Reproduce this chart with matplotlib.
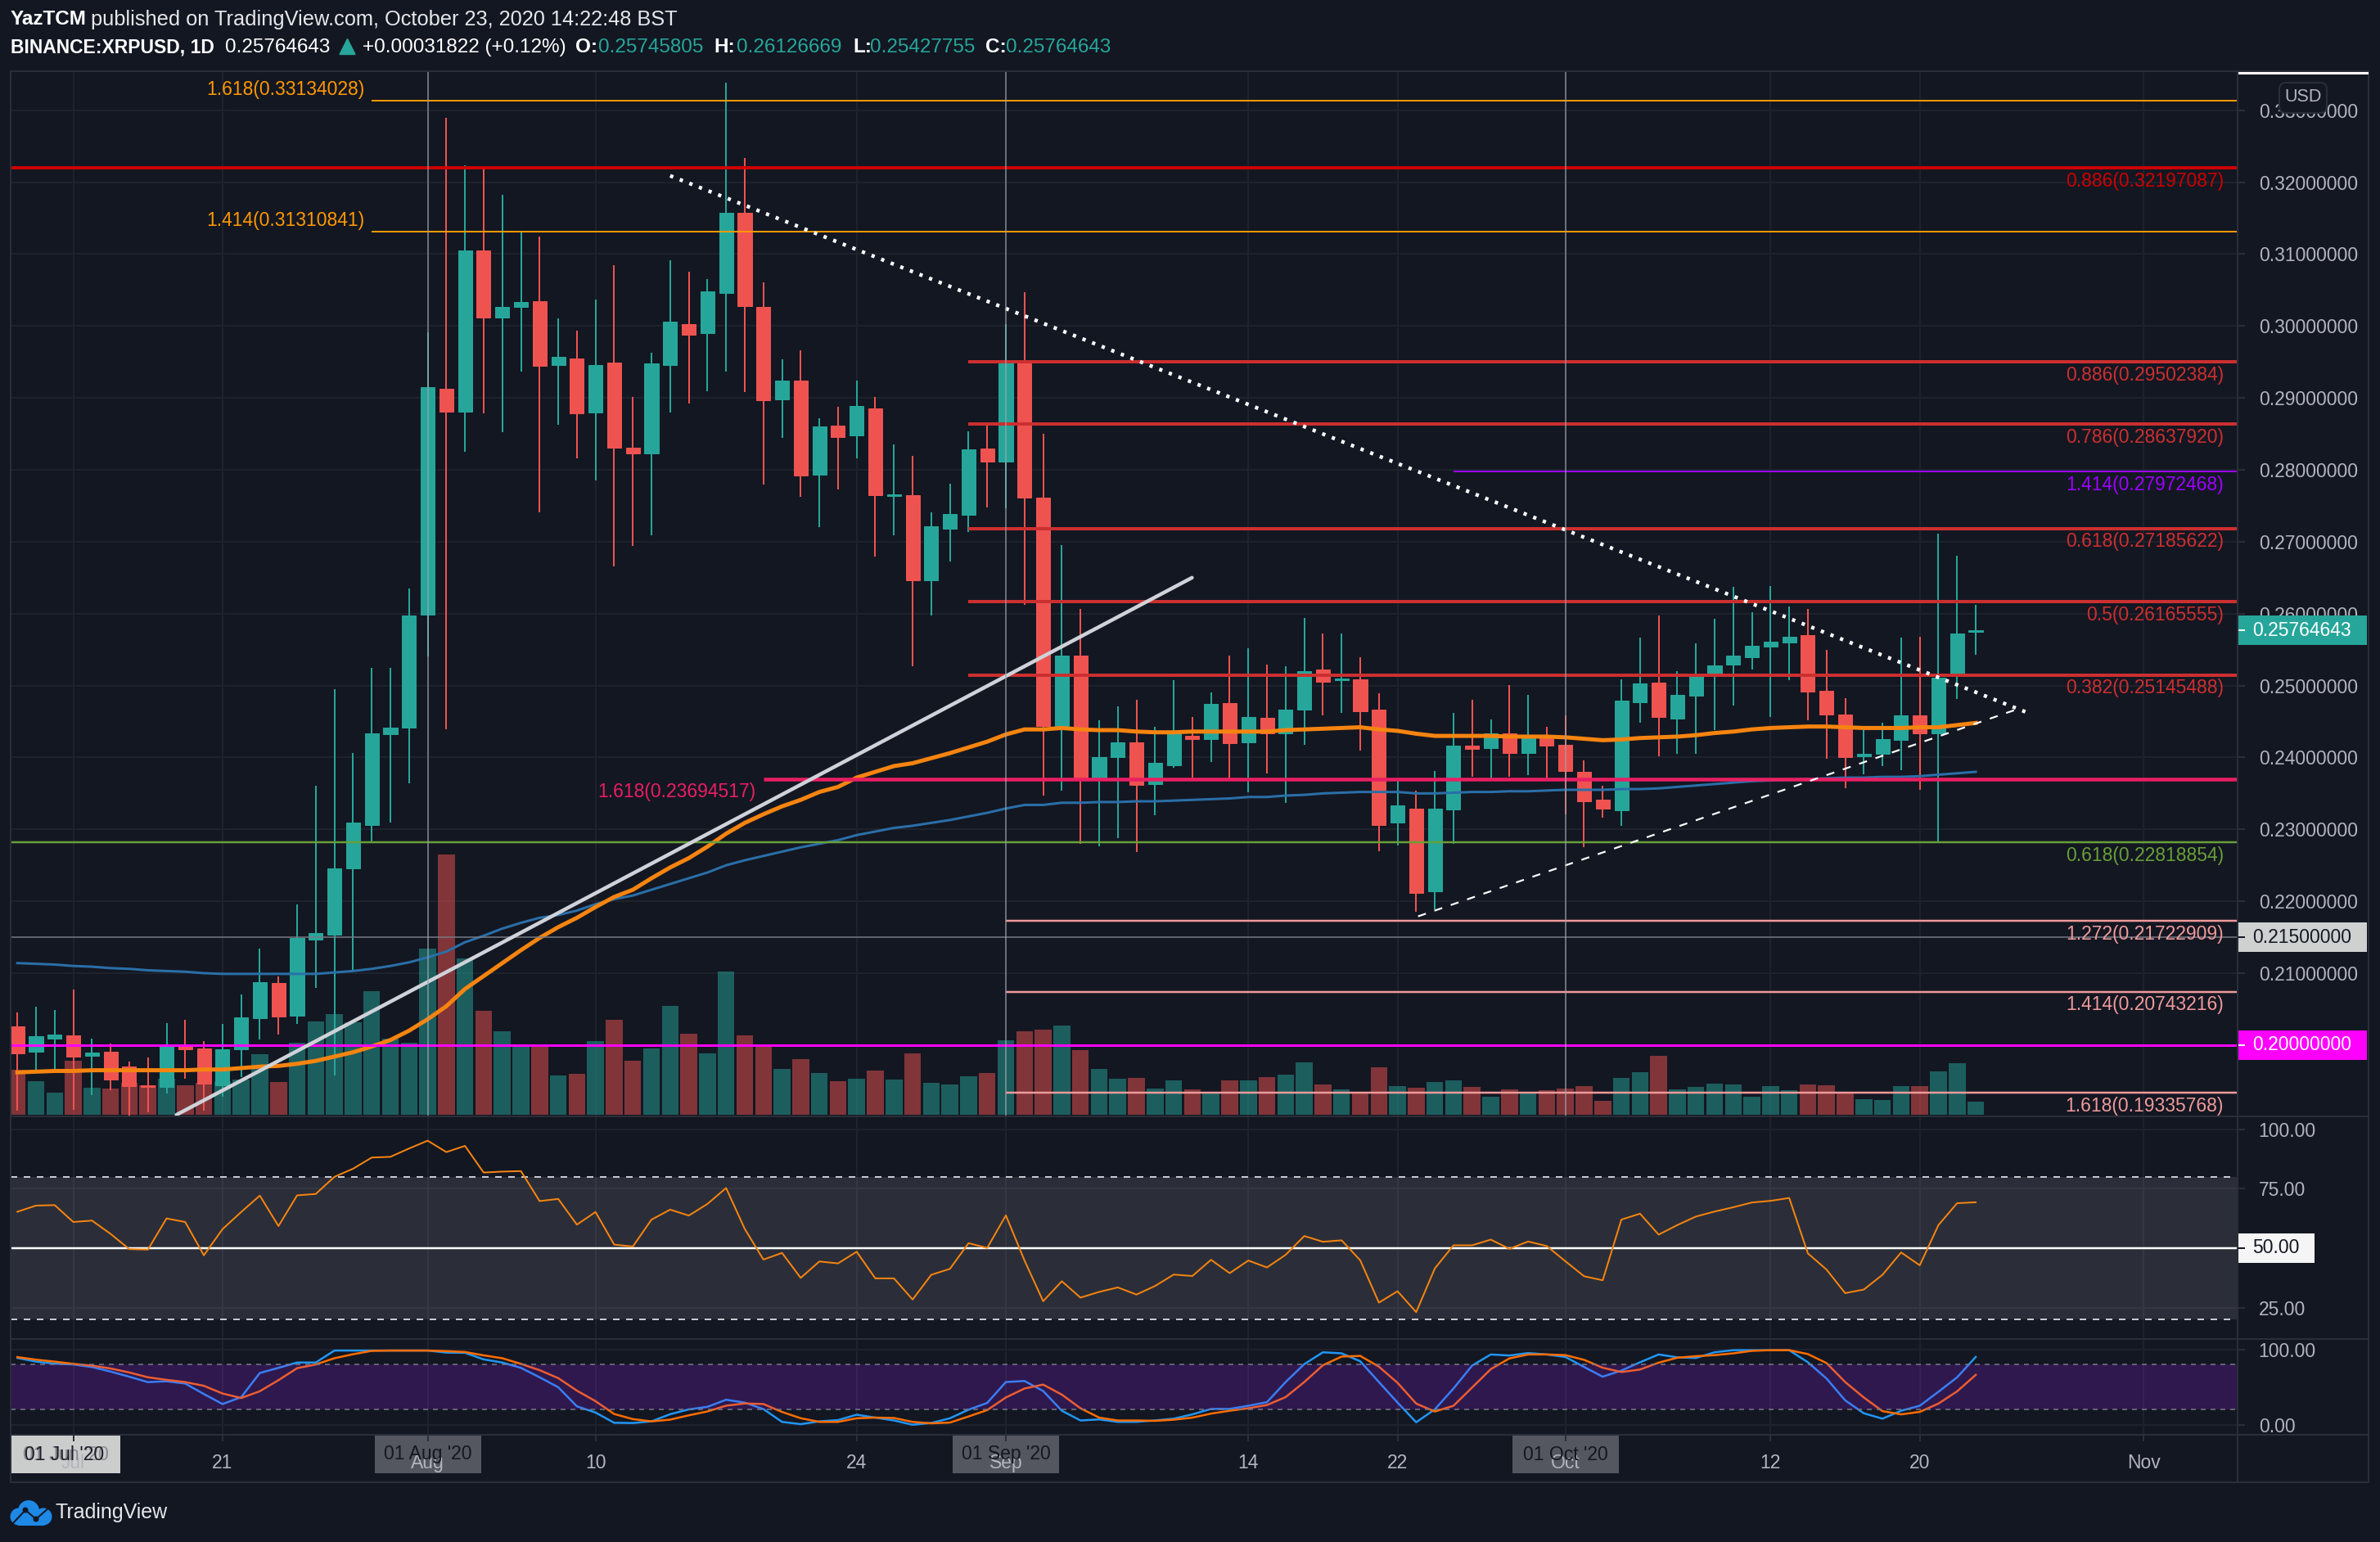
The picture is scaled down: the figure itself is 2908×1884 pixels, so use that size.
# -*- coding: utf-8 -*-
"""
XRPUSD daily chart with volume, moving averages, RSI and Stoch RSI panes
"""

import numpy as np
import pandas as pd
import matplotlib.pyplot as plt
from matplotlib.patches import Rectangle, Circle, Polygon, FancyBboxPatch

plt.rcParams['font.family'] = ['Liberation Sans', 'DejaVu Sans']

# =============================================
# DATA
# =============================================

dates = pd.date_range('2020-07-10', periods=106)

opens = [.2026, .1991, .2009, .2013, .1985, .1991, .1970, .1944, .1942, .1999,
         .1995, .1944, .1994, .2037, .2086, .2041, .2147, .2153, .2246, .2306,
         .2432, .2442, .2599, .2913, .2881, .3105, .3012, .3027, .3034, .2946,
         .2955, .2880, .2949, .2831, .2823, .2946, .3003, .2990, .3046, .3158,
         .3027, .2898, .2924, .2793, .2862, .2848, .2885, .2764, .2765, .2646,
         .2718, .2738, .2830, .2812, .2948, .2761, .2443, .2542, .2372, .2400,
         .2421, .2363, .2389, .2430, .2426, .2476, .2421, .2455, .2433, .2467,
         .2522, .2507, .2509, .2466, .2310, .2329, .2214, .2328, .2417, .2413,
         .2434, .2406, .2431, .2418, .2380, .2341, .2327, .2477, .2504, .2454,
         .2486, .2514, .2529, .2539, .2554, .2560, .2570, .2493, .2460, .2402,
         .2405, .2424, .2458, .2434, .2516, .25745805]
highs = [.2045, .2053, .2049, .2077, .2009, .2002, .1977, .1983, .2031, .2035,
         .2005, .2029, .2070, .2134, .2095, .2196, .2361, .2495, .2406, .2525,
         .2525, .2635, .2991, .3290, .3223, .3218, .3183, .3130, .3125, .3011,
         .2993, .3037, .3085, .2901, .2963, .3091, .3075, .3065, .3338, .3234,
         .3061, .2954, .2966, .2872, .2888, .2924, .2901, .2835, .2819, .2741,
         .2781, .2854, .2863, .3003, .3047, .2850, .2695, .2607, .2452, .2471,
         .2480, .2443, .2508, .2456, .2491, .2542, .2552, .2529, .2527, .2594,
         .2572, .2572, .2539, .2489, .2367, .2354, .2381, .2462, .2480, .2453,
         .2501, .2487, .2443, .2458, .2396, .2361, .2509, .2567, .2597, .2520,
         .2559, .2593, .2637, .2602, .2638, .2610, .2606, .2550, .2482, .2438,
         .2448, .2567, .2568, .2711, .2681, .26126669]
lows = [.1909, .1965, .1965, .1910, .1930, .1937, .1902, .1906, .1933, .1953,
        .1909, .1928, .1956, .2008, .2015, .2029, .2080, .1958, .2104, .2281,
        .2310, .2364, .2540, .2439, .2825, .2879, .2852, .2937, .2741, .2863,
        .2816, .2785, .2666, .2694, .2709, .2880, .2892, .2909, .2937, .2908,
        .2780, .2844, .2763, .2720, .2773, .2816, .2679, .2709, .2527, .2597,
        .2673, .2714, .2748, .2747, .2612, .2347, .2354, .2280, .2277, .2288,
        .2268, .2320, .2386, .2369, .2394, .2370, .2351, .2378, .2337, .2418,
        .2459, .2462, .2410, .2270, .2278, .2185, .2189, .2280, .2373, .2370,
        .2373, .2376, .2370, .2321, .2275, .2316, .2305, .2448, .2402, .2405,
        .2405, .2438, .2472, .2522, .2456, .2508, .2452, .2398, .2357, .2377,
        .2388, .2382, .2355, .2282, .2481, .25427755]
closes = [.1988, .2012, .2015, .1984, .1990, .1952, .1943, .1942, .1999, .1994,
          .1946, .1994, .2038, .2087, .2040, .2149, .2156, .2246, .2310, .2434,
          .2442, .2598, .2915, .2881, .3105, .3012, .3027, .3033, .2945, .2957,
          .2879, .2946, .2831, .2823, .2948, .3006, .2988, .3048, .3158, .3028,
          .2897, .2924, .2792, .2860, .2846, .2889, .2765, .2766, .2646, .2721,
          .2739, .2829, .2811, .2948, .2761, .2444, .2542, .2372, .2400, .2421,
          .2362, .2393, .2433, .2425, .2475, .2420, .2456, .2433, .2467, .2520,
          .2505, .2510, .2464, .2306, .2333, .2212, .2329, .2416, .2412, .2434,
          .2406, .2431, .2417, .2381, .2339, .2329, .2479, .2503, .2456, .2487,
          .2513, .2528, .2542, .2555, .2561, .2568, .2492, .2460, .2400, .2405,
          .2425, .2458, .2434, .2511, .2572, .25764643]

volumes = [54.6, 40.9, 27.1, 66.1, 33.1, 32.1, 38.6, 36.3, 44.1, 36.3,
           39.0, 40.9, 43.2, 73.9, 39.9, 88.2, 113.9, 123.0, 113.4, 151.0,
           93.2, 88.2, 202.9, 318.2, 191.0, 127.2, 101.9, 84.5, 83.1, 48.2,
           50.0, 90.0, 116.2, 66.1, 81.3, 133.1, 99.2, 75.3, 174.9, 96.9,
           83.1, 56.0, 68.0, 51.0, 41.0, 43.6, 53.7, 42.8, 75.0, 38.8,
           36.6, 46.7, 51.0, 90.8, 101.7, 103.8, 109.1, 79.0, 55.8, 43.6,
           44.9, 31.9, 41.9, 31.0, 27.9, 41.9, 41.9, 45.8, 48.9, 63.7,
           36.6, 31.0, 26.6, 58.0, 34.9, 32.7, 39.7, 41.9, 34.0, 21.8,
           31.0, 26.2, 29.7, 31.9, 34.9, 17.0, 44.9, 51.9, 72.0, 31.0,
           34.0, 38.0, 36.6, 21.8, 34.9, 29.7, 36.6, 35.8, 26.6, 18.8,
           17.9, 34.9, 34.9, 52.8, 62.8, 15.7]

ema_fast = [.1962, .1963, .1964, .1964, .1965, .1965, .1965, .1965, .1965, .1965,
            .1966, .1966, .1968, .1970, .1971, .1974, .1978, .1984, .1990, .1998,
            .2007, .2020, .2036, .2054, .2078, .2096, .2114, .2132, .2149, .2164,
            .2177, .2192, .2206, .2216, .2232, .2247, .2260, .2276, .2294, .2309,
            .2321, .2332, .2341, .2352, .2359, .2372, .2380, .2388, .2392, .2399,
            .2406, .2414, .2422, .2432, .2439, .2439, .2441, .2439, .2438, .2438,
            .2436, .2435, .2435, .2436, .2436, .2436, .2436, .2436, .2438, .2439,
            .2440, .2441, .2442, .2439, .2437, .2433, .2430, .2430, .2430, .2430,
            .2429, .2429, .2429, .2428, .2426, .2424, .2425, .2427, .2428, .2429,
            .2431, .2434, .2436, .2439, .2441, .2442, .2443, .2443, .2442, .2441,
            .2441, .2441, .2442, .2442, .2445, .2448]
ema_slow = [.2114, .2113, .2112, .2110, .2109, .2107, .2106, .2104, .2103, .2102,
            .2100, .2099, .2099, .2099, .2099, .2099, .2099, .2101, .2103, .2106,
            .2110, .2115, .2122, .2130, .2143, .2152, .2162, .2170, .2177, .2181,
            .2187, .2196, .2203, .2208, .2216, .2224, .2232, .2240, .2250, .2257,
            .2263, .2269, .2275, .2280, .2285, .2292, .2297, .2302, .2305, .2309,
            .2313, .2318, .2323, .2329, .2334, .2334, .2337, .2337, .2338, .2338,
            .2339, .2339, .2340, .2341, .2342, .2343, .2345, .2345, .2347, .2348,
            .2350, .2351, .2352, .2352, .2352, .2350, .2350, .2351, .2352, .2352,
            .2353, .2353, .2354, .2355, .2355, .2355, .2356, .2356, .2357, .2359,
            .2361, .2363, .2365, .2367, .2368, .2369, .2370, .2371, .2372, .2372,
            .2373, .2373, .2374, .2376, .2378, .2380]

rsi = [65.3, 67.9, 68.1, 61.0, 61.6, 56.0, 49.6, 49.4, 62.5, 61.0,
       47.0, 58.0, 65.2, 72.1, 59.3, 72.2, 72.8, 80.0, 83.4, 88.1,
       88.4, 91.9, 95.2, 90.4, 93.0, 81.8, 82.2, 82.4, 69.8, 70.7,
       59.9, 65.2, 51.5, 50.7, 62.0, 66.2, 63.7, 68.6, 75.3, 58.1,
       45.2, 48.0, 37.5, 44.4, 43.6, 48.5, 37.3, 37.3, 28.4, 38.8,
       41.3, 52.1, 50.1, 63.8, 44.8, 27.7, 36.1, 29.2, 31.6, 33.5,
       30.5, 34.1, 38.9, 38.3, 45.1, 39.5, 44.8, 41.9, 47.2, 55.1,
       52.7, 53.3, 44.9, 27.1, 31.9, 23.1, 41.5, 51.2, 51.2, 53.6,
       49.7, 52.8, 50.9, 44.5, 38.2, 36.5, 62.0, 64.5, 55.7, 59.7,
       63.3, 65.4, 67.2, 69.2, 69.9, 71.1, 47.8, 41.0, 31.1, 32.6,
       38.8, 48.2, 42.8, 59.7, 68.9, 69.3]

stoch_k = [88.7, 83.8, 81.1, 80.0, 76.6, 70.6, 63.8, 56.6, 57.7, 54.7,
           40.8, 27.5, 36.6, 68.7, 75.5, 82.6, 82.6, 98.5, 98.5, 98.5,
           98.5, 98.5, 98.5, 95.8, 95.5, 86.8, 82.6, 75.5, 63.0, 49.8,
           24.5, 16.2, 2.6, 2.3, 4.5, 14.0, 20.4, 23.8, 33.2, 29.4,
           20.8, 3.8, 0.8, 4.5, 6.2, 13.3, 9.5, 5.7, 0.0, 2.4,
           8.6, 20.0, 29.0, 56.7, 58.1, 44.8, 18.6, 5.7, 7.1, 3.8,
           3.8, 5.7, 8.1, 13.8, 21.0, 21.0, 25.2, 30.0, 56.7, 80.5,
           96.2, 94.8, 84.3, 56.7, 29.5, 3.3, 20.5, 48.1, 78.6, 93.3,
           91.9, 95.2, 93.3, 90.0, 76.7, 63.8, 71.9, 82.9, 93.3, 89.5,
           88.6, 96.2, 99.0, 99.0, 99.0, 99.0, 82.9, 61.4, 32.4, 15.2,
           8.1, 18.6, 25.2, 43.8, 62.9, 90.0]
stoch_d = [89.8, 86.4, 83.8, 80.8, 78.5, 74.7, 69.4, 63.0, 59.6, 56.6,
           51.7, 41.5, 35.5, 44.5, 59.2, 75.1, 80.0, 88.3, 93.6, 98.1,
           98.5, 98.5, 98.5, 97.7, 96.6, 92.1, 88.3, 80.8, 72.5, 61.9,
           45.3, 31.3, 14.3, 7.5, 4.5, 6.8, 12.5, 17.7, 25.3, 28.3,
           27.5, 17.0, 8.7, 3.8, 3.8, 8.6, 9.5, 9.0, 3.8, 1.9,
           2.9, 11.0, 19.5, 36.2, 48.1, 53.3, 40.0, 21.9, 9.5, 5.7,
           5.7, 5.2, 6.7, 9.5, 14.8, 18.6, 21.9, 26.2, 36.7, 56.7,
           79.0, 90.5, 91.4, 77.1, 55.7, 28.1, 17.6, 25.2, 49.5, 73.8,
           88.1, 93.3, 93.3, 92.4, 86.2, 75.7, 70.0, 73.3, 82.4, 89.0,
           91.0, 92.4, 94.8, 98.1, 99.0, 99.0, 93.8, 81.9, 56.7, 36.2,
           18.1, 13.8, 17.1, 28.1, 44.3, 66.2]

# Fibonacci levels: ratio, price, colour, start date (None = left edge), line width px
fib_ratios = ['1.618', '0.886', '1.414', '0.886', '0.786', '1.414', '0.618', '0.5', '0.382',
              '1.618', '0.618', '1.272', '1.414', '1.618']
fib_prices = [0.33134028, 0.32197087, 0.31310841, 0.29502384, 0.28637920, 0.27972468,
              0.27185622, 0.26165555, 0.25145488, 0.23694517, 0.22818854, 0.21722909,
              0.20743216, 0.19335768]
fib_colors = ['#ff9800', '#cc0000', '#ff9800', '#cc2f2f', '#cc2f2f', '#9c00ff', '#cc2f2f',
              '#cc2f2f', '#cc2f2f', '#e91e63', '#689f38', '#ef9a9a', '#ef9a9a', '#ef9a9a']
fib_starts = [19.0, None, 19.0, 51.0, 51.0, 77.0, 51.0, 51.0, 51.0, 40.0, None, 53.0, 53.0, 53.0]
fib_widths = [2, 4, 2, 4, 4, 2, 4, 4, 4, 4.5, 2.5, 2.5, 2.5, 2.5]
# label placement: 'right' sits under the line at the axis, the others before the line start
fib_sides = ['above', 'right', 'above', 'right', 'right', 'right', 'right', 'right', 'right',
             'below', 'right', 'right', 'right', 'right']

price_ticks = [0.33, 0.32, 0.31, 0.30, 0.29, 0.28, 0.27, 0.26, 0.25, 0.24, 0.23, 0.22, 0.21]
rsi_ticks = [100, 75, 25]
stoch_ticks = [100, 0]

time_tick_dates = ['2020-07-13', '2020-07-21', '2020-08-01', '2020-08-10', '2020-08-24',
                   '2020-09-01', '2020-09-14', '2020-09-22', '2020-10-01', '2020-10-12',
                   '2020-10-20', '2020-11-01']
time_tick_labels = ['Jul', '21', 'Aug', '10', '24', 'Sep', '14', '22', 'Oct', '12', '20', 'Nov']
month_lines = ['2020-08-01', '2020-09-01', '2020-10-01']

# drawn trend lines, as (date offset, price)
dotted_x, dotted_y = [35.0, 108.0], [0.3209, 0.2460]
dashed_x, dashed_y = [75.1, 107.1], [0.2179, 0.2466]
rising_x, rising_y = [8.53, 62.98], [0.1903, 0.2650]

# =============================================
# STYLE AND LAYOUT
# =============================================

W, H = 2908, 1884
BG = '#131722'
GRID = '#1e222d'
BORDER = '#2a2e39'
AXIS_TEXT = '#b2b5be'
UP = '#26a69a'
DOWN = '#ef5350'
FS = 16.5
PX = 0.72  # one pixel in points at dpi 100

LEFT, RIGHT, FAR_RIGHT = 13, 2734, 2894
TOP, PRICE_BOT, RSI_BOT, STOCH_BOT, TIME_BOT = 87, 1364, 1636, 1753, 1811
XLIM = (-0.36, 119.04)

fig = plt.figure(figsize=(W / 100, H / 100), dpi=100, facecolor=BG)


def add_pane(y0, y1, zorder=1):
    pane = fig.add_axes([LEFT / W, 1 - y1 / H, (RIGHT - LEFT) / W, (y1 - y0) / H], zorder=zorder)
    pane.set_xlim(*XLIM)
    for side in pane.spines:
        pane.spines[side].set_color(BORDER)
        pane.spines[side].set_linewidth(2 * PX)
    return pane


def day_offset(day):
    return (pd.Timestamp(day) - dates[0]).days


days = np.arange(len(dates))
tick_x = [day_offset(d) for d in time_tick_dates]

# Background pane keeps the grid and the price scale, candles go on top of the volume
grid_ax = add_pane(TOP, PRICE_BOT, zorder=1)
grid_ax.set_facecolor(BG)
grid_ax.set_ylim(0.19008, 0.33544)
grid_ax.yaxis.tick_right()
grid_ax.set_yticks(price_ticks)
grid_ax.set_yticklabels([f'{t:.8f}' for t in price_ticks])
grid_ax.set_xticks(tick_x)
grid_ax.tick_params(axis='x', length=0, labelbottom=False)
grid_ax.tick_params(axis='y', length=9 * PX, width=2 * PX, color=BORDER, labelcolor=AXIS_TEXT,
                    labelsize=FS, pad=12)
grid_ax.grid(True, color=GRID, linewidth=2 * PX)
grid_ax.set_axisbelow(True)

vol_ax = add_pane(TOP, PRICE_BOT, zorder=2)
vol_ax.patch.set_visible(False)
vol_ax.set_ylim(-2, 1275)
vol_ax.set_xticks([])
vol_ax.set_yticks([])

price_ax = add_pane(TOP, PRICE_BOT, zorder=3)
price_ax.patch.set_visible(False)
price_ax.set_ylim(*grid_ax.get_ylim())
price_ax.set_xticks([])
price_ax.set_yticks([])

# =============================================
# CANDLES, VOLUME, AVERAGES
# =============================================

opens_arr = np.array(opens)
closes_arr = np.array(closes)
rising = closes_arr >= opens_arr
candle_colors = [UP if r else DOWN for r in rising]

vol_ax.bar(days, volumes, width=0.9, color=candle_colors, alpha=0.5, linewidth=0)

price_ax.vlines(days, lows, highs, colors=candle_colors, linewidth=2 * PX, zorder=2)
price_ax.bar(days, np.abs(closes_arr - opens_arr), bottom=np.minimum(opens_arr, closes_arr),
             width=0.75, color=candle_colors, edgecolor=candle_colors, linewidth=1 * PX, zorder=3)

price_ax.plot(days, ema_slow, color='#2a6fa8', linewidth=3 * PX, zorder=4)
price_ax.plot(days, ema_fast, color='#f68410', linewidth=5 * PX, zorder=4)

# Fibonacci levels and their labels
for ratio, value, color, start, width, side in zip(fib_ratios, fib_prices, fib_colors,
                                                   fib_starts, fib_widths, fib_sides):
    x0 = XLIM[0] if start is None else start
    price_ax.hlines(value, x0, XLIM[1], colors=color, linewidth=width * PX, zorder=5)
    text = f'{ratio}({value:.8f})'
    if side == 'right':
        price_ax.annotate(text, xy=(1, value), xycoords=price_ax.get_yaxis_transform(),
                          xytext=(-17 * PX, -16 * PX), textcoords='offset points',
                          ha='right', va='center', color=color, fontsize=FS, zorder=7)
    else:
        dy = 14 if side == 'above' else -15
        price_ax.annotate(text, xy=(x0, value), xytext=(-9 * PX, dy * PX),
                          textcoords='offset points', ha='right', va='center',
                          color=color, fontsize=FS, zorder=7)

# Support lines with their own price tags
price_ax.axhline(0.215, color='#787b86', linewidth=1.5 * PX, zorder=5)
price_ax.axhline(0.2, color='#ff00ff', linewidth=3 * PX, zorder=5)

# Trend lines
price_ax.plot(rising_x, rising_y, color='#cfd2d8', linewidth=4.5 * PX, zorder=6, solid_capstyle='round')
price_ax.plot(dotted_x, dotted_y, color='white', linewidth=4.5 * PX, zorder=6,
              linestyle=(0, (0.9, 1.9)))
price_ax.plot(dashed_x, dashed_y, color='white', linewidth=2.2 * PX, zorder=6,
              linestyle=(0, (4.6, 5)))

for day in month_lines:
    price_ax.axvline(day_offset(day), color='#a0a3ad', alpha=0.6, linewidth=2 * PX, zorder=6)

# =============================================
# RSI PANE
# =============================================

rsi_ax = add_pane(PRICE_BOT, RSI_BOT)
rsi_ax.set_facecolor(BG)
rsi_ax.set_ylim(11.8, 105.4)
rsi_ax.yaxis.tick_right()
rsi_ax.set_yticks(rsi_ticks)
rsi_ax.set_yticklabels([f'{t:.2f}' for t in rsi_ticks])
rsi_ax.set_xticks(tick_x)
rsi_ax.tick_params(axis='x', length=0, labelbottom=False)
rsi_ax.tick_params(axis='y', length=9 * PX, width=2 * PX, color=BORDER, labelcolor=AXIS_TEXT,
                   labelsize=FS, pad=12)
rsi_ax.grid(True, color=GRID, linewidth=2 * PX)
rsi_ax.set_axisbelow(True)
rsi_ax.axhspan(20, 80, color='white', alpha=0.1, linewidth=0, zorder=1)
rsi_ax.axhline(80, color='#c8cad0', linewidth=2 * PX, linestyle=(0, (4, 4)), zorder=2)
rsi_ax.axhline(20, color='#c8cad0', linewidth=2 * PX, linestyle=(0, (4, 4)), zorder=2)
rsi_ax.axhline(50, color='white', linewidth=2.5 * PX, zorder=2)
rsi_ax.plot(days, rsi, color='#f68410', linewidth=2 * PX, zorder=3)

# =============================================
# STOCH RSI PANE
# =============================================

stoch_ax = add_pane(RSI_BOT, STOCH_BOT)
stoch_ax.set_facecolor(BG)
stoch_ax.set_ylim(-13.3, 113.8)
stoch_ax.yaxis.tick_right()
stoch_ax.set_yticks(stoch_ticks)
stoch_ax.set_yticklabels([f'{t:.2f}' for t in stoch_ticks])
stoch_ax.set_xticks(tick_x)
stoch_ax.set_xticklabels(time_tick_labels)
stoch_ax.tick_params(axis='x', length=8 * PX, width=2 * PX, color=BORDER, labelcolor=AXIS_TEXT,
                     labelsize=FS, pad=11)
stoch_ax.tick_params(axis='y', length=9 * PX, width=2 * PX, color=BORDER, labelcolor=AXIS_TEXT,
                     labelsize=FS, pad=12)
stoch_ax.grid(True, color=GRID, linewidth=2 * PX)
stoch_ax.plot(days, stoch_k, color='#2196f3', linewidth=2.5 * PX, zorder=2)
stoch_ax.plot(days, stoch_d, color='#ff6d00', linewidth=2.5 * PX, zorder=2)
stoch_ax.axhspan(20, 80, color='#a01eff', alpha=0.2, linewidth=0, zorder=3)
stoch_ax.axhline(80, color='#787b86', linewidth=1.5 * PX, linestyle=(0, (4, 4)), zorder=4)
stoch_ax.axhline(20, color='#787b86', linewidth=1.5 * PX, linestyle=(0, (4, 4)), zorder=4)

# =============================================
# OVERLAY: HEADER, TAGS, FRAME, LOGO
# =============================================

top = fig.add_axes([0, 0, 1, 1], zorder=10)
top.patch.set_visible(False)
top.set_xlim(0, W)
top.set_ylim(H, 0)
top.axis('off')


def text_at(x, y, s, color='white', size=18.0, weight='normal', ha='left'):
    top.text(x, y, s, color=color, fontsize=size, fontweight=weight, ha=ha, va='center')


def y_of(axis, value):
    return H - axis.transData.transform((0, value))[1]


# Header lines
text_at(13, 24, 'YazTCM', weight='bold', size=17.5)
text_at(111, 24, 'published on TradingView.com, October 23, 2020 14:22:48 BST', color='#e6e7ea', size=18.3)
text_at(13, 58, 'BINANCE:XRPUSD, 1D', weight='bold', size=16.5)
text_at(275, 58, '0.25764643', size=17.5)
top.add_patch(Polygon([(415, 66.5), (434, 66.5), (424.5, 47.5)], closed=True, color=UP))
text_at(443, 58, '+0.00031822 (+0.12%)', size=17.5)
ohlc_labels = ['O:', 'H:', 'L:', 'C:']
ohlc_values = [opens[-1], highs[-1], lows[-1], closes[-1]]
ohlc_label_x = [703, 872, 1042, 1204]
ohlc_value_x = [731, 900, 1063, 1229]
for name, val, lx, vx in zip(ohlc_labels, ohlc_values, ohlc_label_x, ohlc_value_x):
    text_at(lx, 58, name, weight='bold', size=17.5)
    text_at(vx, 58, f'{val:.8f}', color=UP, size=17.5)

# Price tags on the right scale
tags = [(grid_ax, closes[-1], f'{closes[-1]:.8f}', UP, 'white', 158),
        (grid_ax, 0.215, '0.21500000', '#cfd1d1', '#131722', 158),
        (grid_ax, 0.2, '0.20000000', '#ff00ff', 'white', 158),
        (rsi_ax, 50, '50.00', '#f5f5f5', '#131722', 94)]
for axis, value, label, face, ink, width in tags:
    yc = y_of(axis, value)
    top.add_patch(Rectangle((RIGHT, yc - 18), width, 36, facecolor=face, edgecolor='none'))
    top.plot([RIGHT, RIGHT + 8], [yc, yc], color=ink, linewidth=2 * PX)
    text_at(RIGHT + 18, yc, label, color=ink, size=FS)

# Currency box and the white strip above the price scale
top.add_patch(FancyBboxPatch((2790, 106), 48, 27, boxstyle='round,pad=5,rounding_size=8',
                             facecolor=BG, edgecolor=BORDER, linewidth=2 * PX))
text_at(2814, 118, 'USD', color=AXIS_TEXT, size=FS - 1, ha='center')
top.plot([RIGHT, 2892], [89, 89], color='white', linewidth=3 * PX)

# Outer frame and pane dividers
top.add_patch(Rectangle((LEFT, TOP), FAR_RIGHT - LEFT, TIME_BOT - TOP, fill=False,
                        edgecolor=BORDER, linewidth=2 * PX))
top.plot([RIGHT, RIGHT], [TOP, TIME_BOT], color=BORDER, linewidth=2 * PX)
for y in [PRICE_BOT, RSI_BOT, STOCH_BOT]:
    top.plot([LEFT, FAR_RIGHT], [y, y], color=BORDER, linewidth=2 * PX)

# Month highlight boxes on the time scale
box_transform = top.transData
stoch_ax.add_patch(Rectangle((14, 1754), 133, 46, facecolor='#cbcdcd', edgecolor='none',
                             transform=box_transform, clip_on=False, zorder=1))
text_at(80, 1777, "01 Jun '20", color='#8a8c92', size=FS, ha='center')
text_at(79, 1777, "01 Jul '20", color='#1c1f28', size=FS, ha='center')
for day in month_lines:
    xc = grid_ax.transData.transform((day_offset(day), 0))[0]
    stoch_ax.add_patch(Rectangle((xc - 65, 1754), 130, 46, facecolor='#54575f', edgecolor='none',
                                 transform=box_transform, clip_on=False, zorder=1))
    label = pd.Timestamp(day).strftime("01 %b '%y")
    text_at(xc, 1777, label, color='#131722', size=FS, ha='center')

# TradingView mark
LOGO = '#1e88e5'
for cx, cy, r in [(23, 1853, 10.5), (35, 1846, 13), (53, 1853, 10.5)]:
    top.add_patch(Circle((cx, cy), r, color=LOGO, linewidth=0))
top.add_patch(Rectangle((22, 1850), 32, 13.5, color=LOGO, linewidth=0))
top.plot([15, 31, 44, 60], [1862, 1845, 1856, 1842], color=BG, linewidth=2 * PX)
top.add_patch(Circle((31, 1845), 3.5, color=BG, linewidth=0))
top.add_patch(Circle((44, 1856), 3.5, color=BG, linewidth=0))
text_at(68, 1848, 'TradingView', color='#e6e7ea', size=18.0)

fig.savefig('out.png', dpi=100, facecolor=BG)
plt.close(fig)
